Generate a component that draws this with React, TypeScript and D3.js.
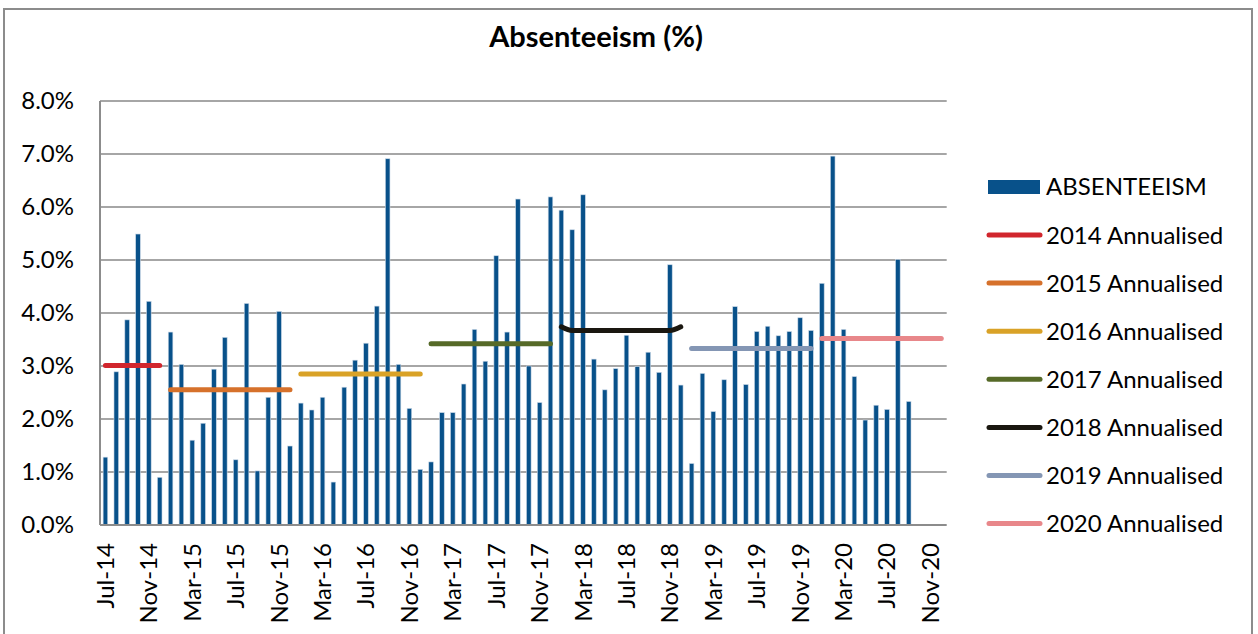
import React, { useRef, useEffect } from "react";
import * as d3 from "d3";

// months shown on the category axis, Jul-14 .. Dec-20
const months: string[] = [];
const monNames = ["Jan", "Feb", "Mar", "Apr", "May", "Jun", "Jul", "Aug", "Sep", "Oct", "Nov", "Dec"];
for (let y = 14; y <= 20; y++) {
  for (let m = 0; m < 12; m++) {
    if (y === 14 && m < 6) continue;
    months.push(`${monNames[m]}-${y}`);
  }
}

// monthly absenteeism (%), Jul-14 .. Sep-20
const absenteeism = [
  1.28, 2.89, 3.87, 5.49, 4.22, 0.9,
  3.64, 3.03, 1.6, 1.92, 2.94, 3.54, 1.23, 4.18, 1.02, 2.41, 4.03, 1.49,
  2.3, 2.17, 2.41, 0.81, 2.6, 3.11, 3.43, 4.13, 6.91, 3.03, 2.2, 1.05,
  1.19, 2.12, 2.12, 2.66, 3.69, 3.09, 5.08, 3.64, 6.15, 3.0, 2.31, 6.19,
  5.94, 5.57, 6.23, 3.13, 2.55, 2.95, 3.58, 2.99, 3.26, 2.88, 4.91, 2.64,
  1.16, 2.86, 2.14, 2.74, 4.12, 2.65, 3.65, 3.75, 3.57, 3.65, 3.91, 3.67,
  4.56, 6.96, 3.69, 2.8, 1.98, 2.26, 2.18, 5.01, 2.33,
];

// annualised lines: first month index and monthly values
const annualNames = ["2014 Annualised", "2015 Annualised", "2016 Annualised", "2017 Annualised", "2018 Annualised", "2019 Annualised", "2020 Annualised"];
const annualColors = ["#d1262d", "#d6712b", "#d9a227", "#566a28", "#1a1710", "#8496b4", "#e8878a"];
const annualStart = [0, 6, 18, 30, 42, 54, 66];
const annualValues = [
  [3.01, 3.01, 3.01, 3.01, 3.01, 3.01],
  [2.55, 2.55, 2.55, 2.55, 2.55, 2.55, 2.55, 2.55, 2.55, 2.55, 2.55, 2.55],
  [2.85, 2.85, 2.85, 2.85, 2.85, 2.85, 2.85, 2.85, 2.85, 2.85, 2.85, 2.85],
  [3.42, 3.42, 3.42, 3.42, 3.42, 3.42, 3.42, 3.42, 3.42, 3.42, 3.42, 3.42],
  [3.74, 3.67, 3.67, 3.67, 3.67, 3.67, 3.67, 3.67, 3.67, 3.67, 3.67, 3.74],
  [3.33, 3.33, 3.33, 3.33, 3.33, 3.33, 3.33, 3.33, 3.33, 3.33, 3.33, 3.33],
  [3.52, 3.52, 3.52, 3.52, 3.52, 3.52, 3.52, 3.52, 3.52, 3.52, 3.52, 3.52],
];

const yTicks = [0, 1, 2, 3, 4, 5, 6, 7, 8];

const FONT = "Lato, 'Open Sans', sans-serif";

const App = () => {
  const ref = useRef<SVGSVGElement>(null);

  useEffect(() => {
    const svg = d3.select(ref.current);
    svg.selectAll("*").remove();

    const x = d3.scaleBand<string>().domain(months).range([100, 946.7]);
    const y = d3.scaleLinear().domain([0, 8]).range([525, 101]);
    const cx = (i: number) => (x(months[i]) as number) + x.bandwidth() / 2;

    // chart border
    svg.append("rect")
      .attr("x", 4).attr("y", 9).attr("width", 1248).attr("height", 640)
      .attr("fill", "white").attr("stroke", "#8c8c8c").attr("stroke-width", 2);

    svg.append("text")
      .attr("x", 596).attr("y", 47)
      .attr("text-anchor", "middle")
      .style("font-family", FONT).style("font-weight", "bold").style("font-size", "29px")
      .text("Absenteeism (%)");

    // gridlines
    svg.append("g").selectAll("line").data(yTicks.slice(1)).enter().append("line")
      .attr("x1", 100).attr("x2", 946.7)
      .attr("y1", (d) => y(d)).attr("y2", (d) => y(d))
      .attr("stroke", "#a6a6a6").attr("stroke-width", 2);

    svg.append("g").selectAll("text").data(yTicks).enter().append("text")
      .attr("x", 74).attr("y", (d) => y(d) + 8)
      .attr("text-anchor", "end")
      .style("font-family", FONT).style("font-size", "24px")
      .text((d) => d3.format(".1f")(d) + "%");

    // bars
    svg.append("g").selectAll("rect").data(absenteeism).enter().append("rect")
      .attr("x", (d, i) => cx(i) - 2.3)
      .attr("width", 4.6)
      .attr("y", (d) => y(d))
      .attr("height", (d) => y(0) - y(d))
      .attr("fill", "#08518a")
      .attr("stroke", "#c9d7e6").attr("stroke-width", 0.6);

    // axes lines
    svg.append("line").attr("x1", 100).attr("x2", 100).attr("y1", 101).attr("y2", 525)
      .attr("stroke", "#8c8c8c").attr("stroke-width", 2);
    svg.append("line").attr("x1", 100).attr("x2", 946.7).attr("y1", 525).attr("y2", 525)
      .attr("stroke", "#8c8c8c").attr("stroke-width", 2);

    // annualised lines
    const line = d3.line<[number, number]>()
      .x((d) => d[0]).y((d) => d[1])
      .curve(d3.curveMonotoneX);
    annualValues.forEach((vals, k) => {
      const pts: [number, number][] = vals.map((v, j) => [cx(annualStart[k] + j), y(v)]);
      svg.append("path")
        .attr("d", line(pts))
        .attr("fill", "none")
        .attr("stroke", annualColors[k])
        .attr("stroke-width", 5)
        .attr("stroke-linecap", "round");
    });

    // x labels every 4 months
    svg.append("g").selectAll("text")
      .data(months.filter((d, i) => i % 4 === 0))
      .enter().append("text")
      .attr("transform", (d) => `translate(${(x(d) as number) + x.bandwidth() / 2 + 8.5},543) rotate(-90)`)
      .attr("text-anchor", "end")
      .style("font-family", FONT).style("font-size", "24px")
      .text((d) => d);

    // legend
    const lg = svg.append("g");
    lg.append("rect").attr("x", 988).attr("y", 180).attr("width", 52).attr("height", 14).attr("fill", "#08518a");
    lg.append("text").attr("x", 1046).attr("y", 195)
      .style("font-family", FONT).style("font-size", "24px").text("ABSENTEEISM");
    annualNames.forEach((name, k) => {
      const ly = 235 + k * 48.1;
      lg.append("line").attr("x1", 989).attr("x2", 1040).attr("y1", ly).attr("y2", ly)
        .attr("stroke", annualColors[k]).attr("stroke-width", 5).attr("stroke-linecap", "round");
      lg.append("text").attr("x", 1046).attr("y", ly + 8.5)
        .style("font-family", FONT).style("font-size", "24px").text(name);
    });
  }, []);

  return (
    <svg ref={ref} width={1258} height={634}
      style={{ position: "absolute", left: 0, top: 0, background: "white" }}></svg>
  );
};

export default App;
